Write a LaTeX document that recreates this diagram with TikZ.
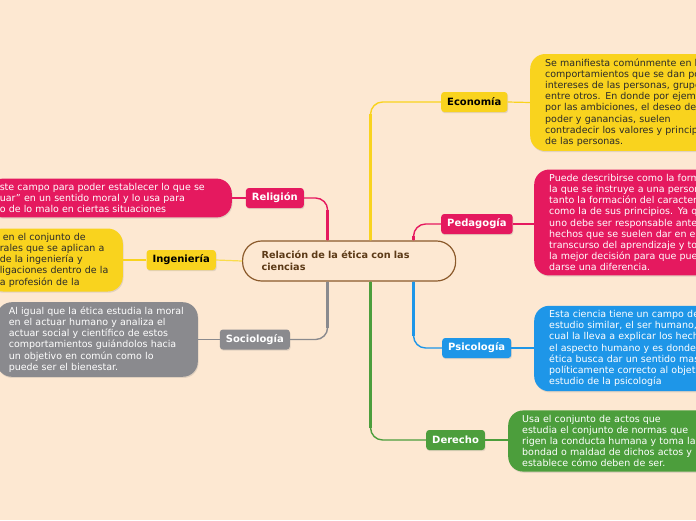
\documentclass[tikz,border=0pt]{standalone}
\usepackage{fontspec}
\setmainfont{DejaVu Sans}
\usetikzlibrary{shadows}
\definecolor{bg}{HTML}{FDE8D2}
\definecolor{ycol}{HTML}{F9D31E}
\definecolor{pcol}{HTML}{E5195F}
\definecolor{bcol}{HTML}{1E96E8}
\definecolor{gcol}{HTML}{4C9E3C}
\definecolor{kcol}{HTML}{8A8A8E}
\definecolor{brd}{HTML}{8B5A2B}
\definecolor{btxt}{HTML}{5C3A17}
\definecolor{dtxt}{HTML}{2A2A2A}
\tikzset{
  shad/.style={drop shadow={shadow xshift=0.7pt, shadow yshift=-1.2pt, opacity=0.22}},
  lbl/.style={rounded corners=3pt, inner xsep=6pt, inner ysep=0pt, minimum height=20pt,
    font=\fontsize{10}{12}\selectfont\bfseries, shad},
  detail/.style={rounded corners=15pt, inner ysep=4.5pt, align=left,
    font=\fontsize{9.5}{11.2}\selectfont, shad},
  trunk/.style={line width=3.6pt},
  branch/.style={line width=1.4pt, rounded corners=12pt},
  link/.style={line width=1.2pt},
}
\begin{document}
\begin{tikzpicture}[x=1pt,y=-1pt]
\useasboundingbox (0,0) rectangle (696,520);
\fill[bg] (0,0) rectangle (696,520);
\clip (0,0) rectangle (696,520);

% central node
\node[draw=brd, line width=1.2pt, fill=bg, rounded corners=19pt, anchor=west,
      inner xsep=19pt, text width=175pt, minimum height=40pt, align=left,
      text=btxt, font=\fontsize{9.7}{12}\selectfont\bfseries] (c) at (242,261)
      {Relación de la ética con las\\ciencias};

% labels
\node[lbl, fill=ycol, text=black, anchor=west] (eco) at (441,102) {Economía};
\node[lbl, fill=pcol, text=white, anchor=west] (ped) at (441,224) {Pedagogía};
\node[lbl, fill=bcol, text=white, anchor=west] (psi) at (442,348) {Psicología};
\node[lbl, fill=gcol, text=white, anchor=west] (der) at (426,440) {Derecho};
\node[lbl, fill=pcol, text=white, anchor=east] (rel) at (304,198) {Religión};
\node[lbl, fill=ycol, text=black, anchor=east] (ing) at (216,260) {Ingeniería};
\node[lbl, fill=kcol, text=white, anchor=east] (soc) at (290,339.5) {Sociología};

% detail boxes
\node[detail, fill=ycol, text=dtxt, anchor=west, inner xsep=15pt, text width=200pt] (ecoD) at (530,102.5)
 {Se manifiesta comúnmente en los\\comportamientos que se dan por\\intereses de las personas, grupos\\entre otros. En donde por ejemplo\\por las ambiciones, el deseo de\\poder y ganancias, suelen\\contradecir los valores y principios\\de las personas.};
\node[detail, fill=pcol, text=white, anchor=west, inner xsep=15pt, text width=200pt] (pedD) at (534,222.5)
 {Puede describirse como la forma en\\la que se instruye a una persona,\\tanto la formación del caracter\\como la de sus principios. Ya que\\uno debe ser responsable ante los\\hechos que se suelen dar en el\\transcurso del aprendizaje y tomar\\la mejor decisión para que pueda\\darse una diferencia.};
\node[detail, fill=bcol, text=white, anchor=west, inner xsep=15pt, text width=200pt] (psiD) at (534,348.5)
 {Esta ciencia tiene un campo de\\estudio similar, el ser humano, lo\\cual la lleva a explicar los hechos\\el aspecto humano y es donde la\\ética busca dar un sentido mas\\políticamente correcto al objeto\\estudio de la psicología};
\node[detail, fill=gcol, text=white, anchor=west, inner xsep=14pt, text width=190pt] (derD) at (508,441)
 {Usa el conjunto de actos que\\estudia el conjunto de normas que\\rigen la conducta humana y toma la\\bondad o maldad de dichos actos y\\establece cómo deben de ser.};
\node[detail, fill=pcol, text=white, anchor=east, inner xsep=12pt, text width=220pt] (relD) at (232,198)
 {ste campo para poder establecer lo que se\\uar" en un sentido moral y lo usa para\\o de lo malo en ciertas situaciones};
\node[detail, fill=ycol, text=dtxt, anchor=east, inner xsep=12pt, text width=111pt] (ingD) at (123,260)
 {\hspace*{3pt}en el conjunto de\\rales que se aplican a\\de la ingeniería y\\ligaciones dentro de la\\a profesión de la};
\node[detail, fill=kcol, text=white, anchor=east, inner xsep=12pt, text width=177pt] (socD) at (198,339.5)
 {Al igual que la ética estudia la moral\\en el actuar humano y analiza el\\actuar social y científico de estos\\comportamientos guiándolos hacia\\un objetivo en común como lo\\puede ser el bienestar.};

% trunk start points
\coordinate (ecoS) at ([xshift=21.5pt]c.north);
\coordinate (pedS) at ([xshift=64.5pt]c.north);
\coordinate (relS) at ([xshift=-21.5pt]c.north);
\coordinate (derS) at ([xshift=21.5pt]c.south);
\coordinate (psiS) at ([xshift=64.5pt]c.south);
\coordinate (socS) at ([xshift=-21.5pt]c.south);

% branches
\draw[branch, ycol] (ecoS) |- (eco.west);
\draw[trunk, ycol, shorten >=12pt] (ecoS) -- (ecoS |- eco.west);
\draw[branch, pcol] (pedS) |- (ped.west);
\draw[trunk, pcol, shorten >=12pt] (pedS) -- (pedS |- ped.west);
\draw[branch, pcol] (relS) |- (rel.east);
\draw[trunk, pcol, shorten >=12pt] (relS) -- (relS |- rel.east);
\draw[branch, gcol] (derS) |- (der.west);
\draw[trunk, gcol, shorten >=12pt] (derS) -- (derS |- der.west);
\draw[branch, bcol] (psiS) |- (psi.west);
\draw[trunk, bcol, shorten >=12pt] (psiS) -- (psiS |- psi.west);
\draw[branch, kcol] (socS) |- (soc.east);
\draw[trunk, kcol, shorten >=12pt] (socS) -- (socS |- soc.east);
\draw[link, ycol!80!white] (c.west) -- (ing.east);

% links label -> detail
\draw[link, ycol] (eco.east) -- (ecoD.west);
\draw[link, pcol] (ped.east) -- (pedD.west |- ped.east);
\draw[link, bcol] (psi.east) -- (psiD.west |- psi.east);
\draw[link, gcol] (der.east) -- (derD.west |- der.east);
\draw[link, pcol] (rel.west) -- (relD.east);
\draw[link, ycol] (ing.west) -- (ingD.east);
\draw[link, kcol] (soc.west) -- (socD.east);
\end{tikzpicture}
\end{document}
